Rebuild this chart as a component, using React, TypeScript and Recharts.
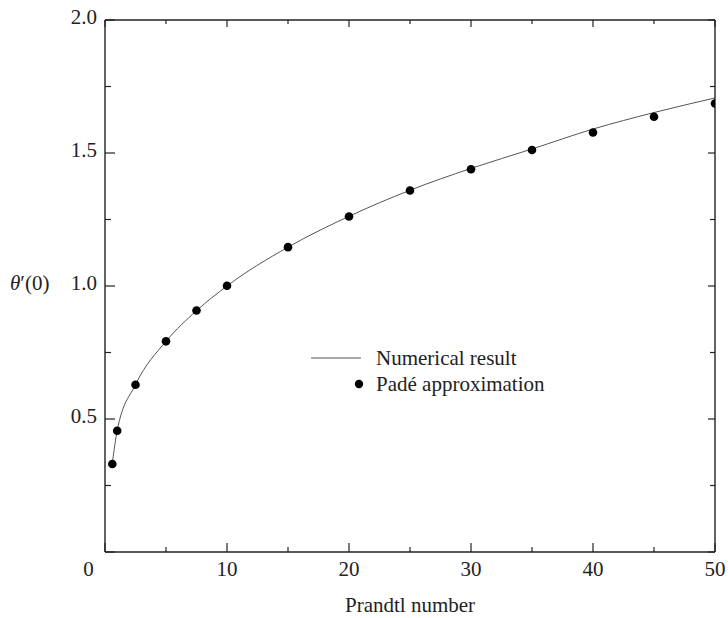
import React from "react";
import {
  ComposedChart,
  Line,
  Scatter,
  XAxis,
  YAxis,
  Legend,
} from "recharts";

// Prandtl numbers used for both curves
const prandtl = [0.6, 1, 2.5, 5, 7.5, 10, 15, 20, 25, 30, 35, 40, 45, 50];
const numerical = [0.333, 0.457, 0.629, 0.792, 0.907, 1.0, 1.146, 1.262, 1.36, 1.442, 1.515, 1.59, 1.652, 1.707];
const pade = [0.331, 0.456, 0.629, 0.792, 0.908, 1.001, 1.146, 1.261, 1.359, 1.439, 1.511, 1.577, 1.636, 1.686];

const xTicks = [0, 5, 10, 15, 20, 25, 30, 35, 40, 45, 50];
const yTicks = [0, 0.25, 0.5, 0.75, 1.0, 1.25, 1.5, 1.75, 2.0];

const data = prandtl.map((pr, i) => ({ pr, numerical: numerical[i], pade: pade[i] }));

const FONT = '"Liberation Serif", "Times New Roman", Times, serif';
const FS = 21;
const INK = "#222";

const isMajorX = (v: number) => v % 10 === 0;
const isMajorY = (v: number) => Math.abs(v * 2 - Math.round(v * 2)) < 1e-6;

function BottomTick({ x, y, payload }: any) {
  const v = payload.value;
  const major = isMajorX(v);
  return (
    <g>
      <line x1={x} y1={y} x2={x} y2={y - (major ? 9 : 5)} stroke={INK} strokeWidth={1.2} />
      {major && (
        <text x={v === 0 ? x - 16.5 : x} y={y + 24} textAnchor="middle" fontFamily={FONT} fontSize={FS} fill={INK}>
          {v}
        </text>
      )}
    </g>
  );
}

function TopTick({ x, y, payload }: any) {
  const major = isMajorX(payload.value);
  return <line x1={x} y1={y} x2={x} y2={y + (major ? 7 : 4)} stroke={INK} strokeWidth={1.2} />;
}

function LeftTick({ x, y, payload }: any) {
  const v = payload.value;
  const major = isMajorY(v);
  return (
    <g>
      <line x1={x} y1={y} x2={x + (major ? 10 : 6)} y2={y} stroke={INK} strokeWidth={1.2} />
      {major && v > 0 && (
        <text x={x - 8} y={y + 4} textAnchor="end" fontFamily={FONT} fontSize={FS} fill={INK}>
          {v.toFixed(1)}
        </text>
      )}
    </g>
  );
}

function RightTick({ x, y, payload }: any) {
  const major = isMajorY(payload.value);
  return <line x1={x} y1={y} x2={x - (major ? 7 : 5)} y2={y} stroke={INK} strokeWidth={1.2} />;
}

function LegendBox() {
  const row = { display: "flex", alignItems: "center", height: 26, lineHeight: "26px" } as const;
  return (
    <div style={{ fontFamily: FONT, fontSize: FS, color: INK, whiteSpace: "nowrap" }}>
      <div style={row}>
        <svg width={54} height={26}>
          <line x1={0} y1={13} x2={50} y2={13} stroke="#555" strokeWidth={1} />
        </svg>
        <span style={{ marginLeft: 11 }}>Numerical result</span>
      </div>
      <div style={row}>
        <svg width={54} height={26}>
          <circle cx={48} cy={13} r={4.2} fill="#000" />
        </svg>
        <span style={{ marginLeft: 11 }}>Padé approximation</span>
      </div>
    </div>
  );
}

const axisLine = { stroke: INK, strokeWidth: 1.4 };

export default function App() {
  return (
    <div style={{ position: "absolute", left: 0, top: 0, width: 728, height: 618 }}>
      <ComposedChart width={728} height={618} data={data} margin={{ top: 19, right: 12, bottom: 65, left: 104 }}>
        <XAxis
          dataKey="pr"
          type="number"
          domain={[0, 50]}
          ticks={xTicks}
          interval={0}
          height={1}
          tickSize={0}
          tickMargin={0}
          tickLine={false}
          axisLine={axisLine}
          tick={(p: any) => <BottomTick {...p} />}
          allowDataOverflow
          label={(p: any) => {
            const vb = p.viewBox;
            return (
              <text x={vb.x + vb.width / 2} y={vb.y + 60} textAnchor="middle" fontFamily={FONT} fontSize={FS} fill={INK}>
                Prandtl number
              </text>
            );
          }}
        />
        <XAxis
          xAxisId="top"
          orientation="top"
          dataKey="pr"
          type="number"
          domain={[0, 50]}
          ticks={xTicks}
          interval={0}
          height={1}
          tickSize={0}
          tickMargin={0}
          tickLine={false}
          axisLine={axisLine}
          tick={(p: any) => <TopTick {...p} />}
          allowDataOverflow
        />
        <YAxis
          type="number"
          domain={[0, 2]}
          ticks={yTicks}
          interval={0}
          width={1}
          tickSize={0}
          tickMargin={0}
          tickLine={false}
          axisLine={axisLine}
          tick={(p: any) => <LeftTick {...p} />}
          allowDataOverflow
          label={(p: any) => {
            const vb = p.viewBox;
            return (
              <text x={10} y={vb.y + vb.height / 2 + 4} fontFamily={FONT} fontSize={FS} fill={INK}>
                <tspan fontStyle="italic">θ</tspan>′(0)
              </text>
            );
          }}
        />
        <YAxis
          yAxisId="right"
          orientation="right"
          type="number"
          domain={[0, 2]}
          ticks={yTicks}
          interval={0}
          width={1}
          tickSize={0}
          tickMargin={0}
          tickLine={false}
          axisLine={axisLine}
          tick={(p: any) => <RightTick {...p} />}
          allowDataOverflow
        />
        <Line
          type="monotone"
          dataKey="numerical"
          stroke="#555"
          strokeWidth={1}
          dot={false}
          activeDot={false}
          isAnimationActive={false}
        />
        <Scatter
          dataKey="pade"
          fill="#000"
          isAnimationActive={false}
          shape={(p: any) => <circle cx={p.cx} cy={p.cy} r={4.3} fill="#000" />}
        />
        <Legend
          layout="vertical"
          align="center"
          verticalAlign="middle"
          content={() => <LegendBox />}
          wrapperStyle={{ left: 311, top: 345, width: 280, height: 52 }}
        />
      </ComposedChart>
    </div>
  );
}
